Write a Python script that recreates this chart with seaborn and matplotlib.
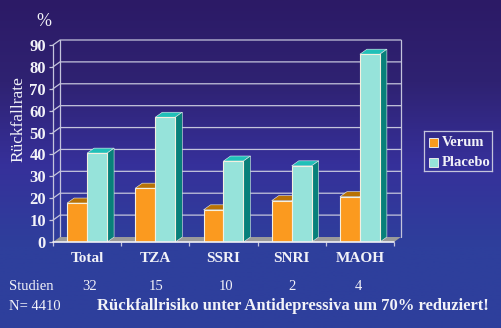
import numpy as np
import pandas as pd
import matplotlib
matplotlib.use("Agg")
import matplotlib.pyplot as plt
from matplotlib.colors import LinearSegmentedColormap
from matplotlib.patches import Polygon
import seaborn as sns

# values
classes = ["Total", "TZA", "SSRI", "SNRI", "MAOH"]
verum = [17.8, 24.6, 14.7, 18.9, 20.7]
placebo = [40.6, 57, 37, 34.8, 85.8]
studien = ["32", "15", "10", "2", "4"]
yticks = [0, 10, 20, 30, 40, 50, 60, 70, 80, 90]

W, H = 502, 328
LINE = "#c4c4dc"
TXT = "#f2f2f8"

sns.set_style("white")
plt.rcParams["font.family"] = ["Liberation Serif", "DejaVu Serif"]

df = pd.DataFrame({
    "cls": classes * 2,
    "val": verum + placebo,
    "grp": ["Verum"] * 5 + ["Placebo"] * 5,
})

fig = plt.figure(figsize=(W / 100, H / 100), dpi=100)

# background gradient
bg = fig.add_axes([0, 0, 1, 1], zorder=0)
cmap = LinearSegmentedColormap.from_list("bg", ["#2c1a66", "#2f2272", "#36309a", "#2e3f9c", "#2e3f9c"])
bg.imshow(np.linspace(0, 1, 256).reshape(-1, 1), aspect="auto", cmap=cmap, extent=[0, 1, 0, 1])
bg.axis("off")

x0, x1, y0, y1 = 53, 394, 242, 45
ax = fig.add_axes([x0 / W, 1 - y0 / H, (x1 - x0) / W, (y0 - y1) / H], zorder=1)
ax.patch.set_alpha(0)

sns.barplot(data=df, x="cls", y="val", hue="grp", order=classes, hue_order=["Verum", "Placebo"],
            palette={"Verum": "#fb9a1f", "Placebo": "#96e3da"}, width=0.586, gap=0, saturation=1,
            edgecolor="#f4f0e0", linewidth=0.8, ax=ax, zorder=5, legend=False)
ax.set_xlim(-0.5, 4.5)
ax.set_ylim(0, 90)

# depth of the fake 3d in data units
dx = 7 / ((x1 - x0) / 5)
dy = 5 / ((y0 - y1) / 90)

# back wall, floor, side wall
for v in yticks[1:]:
    ax.plot([-0.5, -0.5 + dx, 4.5 + dx], [v, v + dy, v + dy], color=LINE, lw=0.9, clip_on=False, zorder=2)
ax.plot([4.5 + dx, 4.5 + dx], [dy, 90 + dy], color=LINE, lw=0.9, clip_on=False, zorder=2)
ax.plot([-0.5 + dx, -0.5 + dx], [dy, 90 + dy], color=LINE, lw=0.9, clip_on=False, zorder=2)
ax.add_patch(Polygon([(-0.5, 0), (-0.5 + dx, dy), (4.5 + dx, dy), (4.5, 0)], closed=True,
                     facecolor="#9a9a9a", edgecolor="none", clip_on=False, zorder=3))
ax.plot([-0.5, -0.5], [0, 90], color=LINE, lw=0.9, clip_on=False, zorder=3)
ax.plot([-0.5, 4.5], [0, 0], color="#f0f0f5", lw=1.2, clip_on=False, zorder=6)

# top and side faces of each bar
faces = {"#fb9a1f": ("#b87205", "#a86504"), "#96e3da": ("#20c0b8", "#08807a")}
for bar, col in zip(ax.patches, ["#fb9a1f"] * 5 + ["#96e3da"] * 5):
    l, w, h = bar.get_x(), bar.get_width(), bar.get_height()
    top, side = faces[col]
    ax.add_patch(Polygon([(l, h), (l + dx, h + dy), (l + w + dx, h + dy), (l + w, h)], closed=True,
                         facecolor=top, edgecolor="#e8f0f0", lw=0.4, clip_on=False, zorder=4))
    ax.add_patch(Polygon([(l + w, 0), (l + w + dx, dy), (l + w + dx, h + dy), (l + w, h)], closed=True,
                         facecolor=side, edgecolor="#e8f0f0", lw=0.4, clip_on=False, zorder=4))

ax.set_yticks(yticks)
ax.set_xticks(np.arange(-0.5, 5))
ax.set_xticklabels([])
for s in ax.spines.values():
    s.set_visible(False)
ax.tick_params(axis="y", left=True, length=3, width=0.9, color=LINE, labelcolor=TXT, labelsize=12, pad=2)
ax.tick_params(axis="x", bottom=True, length=3, width=0.9, color=LINE)
for t in ax.get_yticklabels():
    t.set_fontweight("bold")
ax.set_xlabel("")
ax.set_ylabel("")


def ftext(px, py, s, **kw):
    kw.setdefault("color", TXT)
    kw.setdefault("va", "center")
    fig.text(px / W, 1 - py / H, s, zorder=5, **kw)


ftext(44, 22, "%", ha="center", fontsize=13)
ftext(18, 119, "Rückfallrate", ha="center", rotation=90, fontsize=12.5)
for i, c in enumerate(classes):
    ftext(x0 + (i + 0.5) * (x1 - x0) / 5, 258, c, ha="center", fontsize=11, fontweight="bold")
for c, px in zip(studien, [90, 156, 226, 292, 358]):
    ftext(px, 287, c, ha="center", fontsize=10.5)
ftext(9, 287, "Studien", ha="left", fontsize=10.5)
ftext(9, 306, "N= 4410", ha="left", fontsize=10.5)
ftext(97, 306, "Rückfallrisiko unter Antidepressiva um 70% reduziert!", ha="left", fontsize=12, fontweight="bold")

# legend box
lg = fig.add_axes([424 / W, 1 - 171 / H, 68 / W, 40 / H], zorder=2)
lg.set_xlim(424, 492)
lg.set_ylim(171, 131)
lg.patch.set_alpha(0)
lg.set_xticks([])
lg.set_yticks([])
for s in lg.spines.values():
    s.set_color(LINE)
    s.set_linewidth(0.9)
for yy, name, col in [(142, "Verum", "#fb9a1f"), (162, "Placebo", "#96e3da")]:
    lg.add_patch(plt.Rectangle((429, yy - 4.5), 9, 9, facecolor=col, edgecolor="#e8e8e8", lw=0.7))
    lg.text(442, yy, name, color=TXT, va="center", ha="left", fontsize=10.5, fontweight="bold")

fig.savefig("out.png", dpi=100)
